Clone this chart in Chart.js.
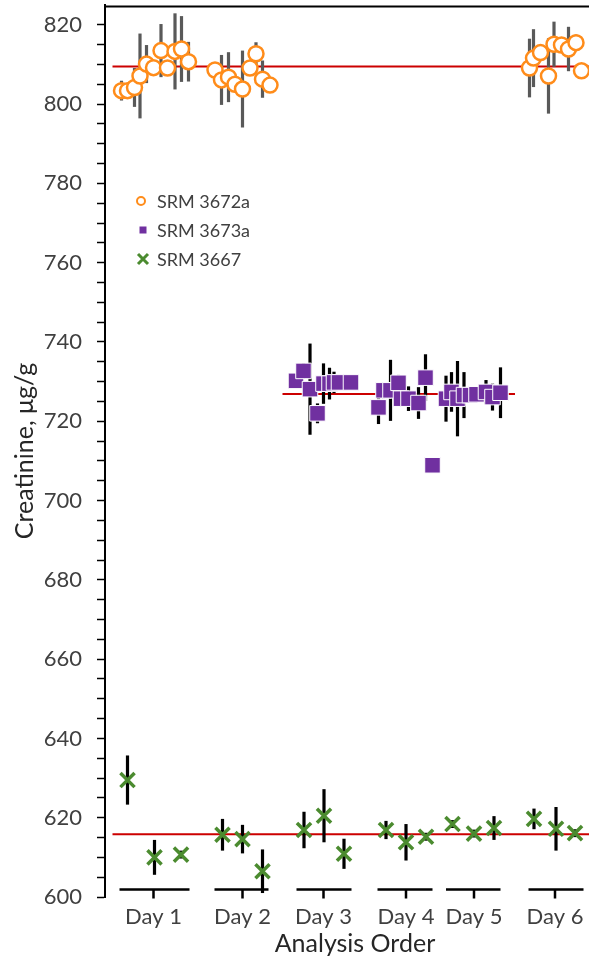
<!DOCTYPE html>
<html>
<head>
<meta charset="utf-8">
<title>Creatinine, SRM 3672a / 3673a / 3667</title>
<script src="https://cdn.jsdelivr.net/npm/chart.js@4.4.1/dist/chart.umd.min.js"></script>
<style>
  html, body { margin: 0; padding: 0; background: #fff; overflow: hidden; }
  #wrap { position: relative; width: 610px; height: 962px; }
</style>
</head>
<body>
<div id="wrap"><canvas id="chart"></canvas></div>
<script>
// x is the position in the analysis sequence, y is creatinine in ug/g
const DAY_LABELS = ['Day 1', 'Day 2', 'Day 3', 'Day 4', 'Day 5', 'Day 6'];
const DAY_CENTERS = [9.7, 27.5, 43.7, 60.2, 73.8, 90.0];
const DAY_STARTS = [2.9, 21.9, 38.3, 54.5, 68.2, 84.7];
const DAY_ENDS = [16.9, 32.7, 49.3, 65.5, 79.1, 95.7];

const SRM3672A_X = [
    3.3, 4.5, 5.9, 7.0, 8.3, 9.7, 11.2, 12.5, 14.0, 15.3, 16.7,
    22.0, 23.3, 24.7, 26.0, 27.5, 29.0, 30.2, 31.5, 33.0,
    84.9, 85.7, 87.1, 88.7, 89.8, 91.3, 92.7, 94.2, 95.3
];
const SRM3672A_Y = [
    803.4, 803.4, 804.2, 807.1, 810.1, 809.2, 813.5, 809.1, 813.3, 813.9, 810.7,
    808.6, 806.1, 806.8, 805.0, 803.8, 809.1, 812.7, 806.3, 804.8,
    809.1, 811.6, 813.0, 807.1, 815.1, 814.9, 813.9, 815.5, 808.4
];
const SRM3672A_ERR = [
    2.5, 1.5, 4.9, 10.7, 4.8, 1.5, 6.7, 2.0, 9.6, 8.3, 5.0,
    1.5, 6.3, 6.3, 2.0, 9.7, 2.0, 2.9, 4.7, 1.5,
    7.4, 7.3, 2.0, 9.5, 5.7, 2.0, 5.6, 2.0, 1.5
];

const SRM3673A_X = [
    38.2, 39.7, 41.0, 42.5, 43.7, 44.9, 45.8, 46.8, 49.2,
    54.7, 55.7, 57.1, 58.7, 59.2, 60.7, 62.7, 64.1, 65.5,
    68.2, 69.3, 70.5, 71.8, 73.0, 74.3, 76.2, 77.5, 79.1
];
const SRM3673A_Y = [
    730.2, 732.7, 728.1, 722.0, 729.5, 729.5, 729.8, 729.8, 729.8,
    723.5, 727.8, 727.8, 729.7, 725.7, 725.7, 724.6, 731.0, 708.9,
    725.7, 727.4, 725.7, 726.6, 726.6, 726.8, 727.4, 726.1, 727.2
];
const SRM3673A_ERR = [
    1.5, 2.0, 11.5, 2.5, 5.1, 4.0, 2.7, 1.5, 1.5,
    4.2, 2.0, 7.7, 2.0, 2.0, 3.1, 4.0, 5.9, 1.0,
    5.8, 5.0, 9.5, 5.8, 1.5, 1.5, 3.0, 3.4, 6.4
];

const SRM3667_X = [
    4.5, 9.9, 15.2, 23.5, 27.5, 31.5, 39.8, 43.8, 47.8,
    56.2, 60.2, 64.2, 69.5, 73.8, 77.8, 85.8, 90.2, 94.0
];
const SRM3667_Y = [
    629.5, 610.0, 610.7, 615.7, 614.6, 606.5, 616.9, 620.5, 610.9,
    616.9, 613.8, 615.2, 618.4, 616.0, 617.4, 619.7, 617.2, 616.1
];
const SRM3667_ERR = [
    6.2, 4.4, 1.0, 4.0, 3.6, 5.5, 4.6, 6.7, 3.8,
    2.3, 4.6, 1.0, 1.0, 1.0, 3.0, 2.6, 5.5, 1.0
];

// certified / assigned values, drawn as red reference lines
const MEAN_3672A = 809.5;
const MEAN_3673A = 726.9;
const MEAN_3667 = 615.8;
const MEAN_3672A_SPAN = [1.5, 100];
const MEAN_3673A_SPAN = [35.5, 82];
const MEAN_3667_SPAN = [1.5, 100];

const ORANGE = '#ff8c1a';
const PURPLE = '#7030a0';
const GREEN = '#4b8b2f';
const RED = '#cc0000';
const TEXT = '#404040';
const FONT = 'Lato, "Open Sans", sans-serif';

function points(xs, ys) {
    return xs.map((x, i) => ({ x, y: ys[i] }));
}

function meanLine(value, span) {
    return {
        type: 'line',
        data: span.map(x => ({ x, y: value })),
        borderColor: RED,
        borderWidth: 2,
        pointRadius: 0,
        order: 5,
    };
}

// vertical error bars, painted right before the markers of their dataset
const errorBars = {
    id: 'errorBars',
    beforeDatasetDraw(chart, args) {
        const ds = chart.data.datasets[args.index];
        if (!ds.errors) return;
        const { ctx, scales: { x, y } } = chart;
        ctx.save();
        ctx.strokeStyle = ds.errorColor;
        ctx.lineWidth = 3.2;
        ds.data.forEach((p, i) => {
            const e = ds.errors[i];
            const px = x.getPixelForValue(p.x);
            ctx.beginPath();
            ctx.moveTo(px, y.getPixelForValue(p.y - e));
            ctx.lineTo(px, y.getPixelForValue(p.y + e));
            ctx.stroke();
        });
        ctx.restore();
    }
};

// bracket under each day
const dayBrackets = {
    id: 'dayBrackets',
    beforeDatasetsDraw(chart) {
        const { ctx, scales: { x, y } } = chart;
        const py = Math.round(y.getPixelForValue(601.9)) + 0.5;
        ctx.save();
        ctx.strokeStyle = '#000';
        ctx.lineWidth = 2.5;
        DAY_STARTS.forEach((start, i) => {
            const cx = x.getPixelForValue(DAY_CENTERS[i]);
            ctx.beginPath();
            ctx.moveTo(x.getPixelForValue(start), py);
            ctx.lineTo(x.getPixelForValue(DAY_ENDS[i]), py);
            ctx.moveTo(cx, py);
            ctx.lineTo(cx, py + 9);
            ctx.stroke();
        });
        ctx.restore();
    }
};

// top edge of the plot frame
const topFrame = {
    id: 'topFrame',
    afterDraw(chart) {
        const { ctx, chartArea } = chart;
        ctx.save();
        ctx.strokeStyle = '#000';
        ctx.lineWidth = 2;
        ctx.beginPath();
        ctx.moveTo(chartArea.left - 1, chartArea.top + 1.5);
        ctx.lineTo(chartArea.right, chartArea.top + 1.5);
        ctx.stroke();
        ctx.restore();
    }
};

// legend block inside the plot area
const insetLegend = {
    id: 'insetLegend',
    afterDraw(chart) {
        const { ctx } = chart;
        const mx = 143, tx = 157;
        const rows = [201, 230, 259];
        ctx.save();
        ctx.font = '18px ' + FONT;
        ctx.fillStyle = TEXT;
        ctx.textBaseline = 'middle';
        chart.data.datasets.filter(d => d.errors).forEach((ds, i) => {
            const my = rows[i];
            ctx.save();
            if (ds.pointStyle === 'circle') {
                ctx.strokeStyle = ORANGE;
                ctx.fillStyle = '#fff';
                ctx.lineWidth = 2;
                ctx.beginPath();
                ctx.arc(mx - 2, my, 4, 0, Math.PI * 2);
                ctx.fill();
                ctx.stroke();
            } else if (ds.pointStyle === 'rect') {
                ctx.fillStyle = PURPLE;
                ctx.fillRect(mx - 3.5, my - 3.5, 7, 7);
            } else {
                ctx.strokeStyle = GREEN;
                ctx.lineWidth = 3;
                ctx.beginPath();
                ctx.moveTo(mx - 5, my - 5);
                ctx.lineTo(mx + 5, my + 5);
                ctx.moveTo(mx + 5, my - 5);
                ctx.lineTo(mx - 5, my + 5);
                ctx.stroke();
            }
            ctx.restore();
            ctx.fillText(ds.label, tx, my + 1);
        });
        ctx.restore();
    }
};

new Chart(document.getElementById('chart'), {
    type: 'scatter',
    data: {
        datasets: [
            {
                label: 'SRM 3672a',
                data: points(SRM3672A_X, SRM3672A_Y),
                errors: SRM3672A_ERR,
                errorColor: '#595959',
                pointStyle: 'circle',
                pointRadius: 7.5,
                borderWidth: 2.5,
                borderColor: ORANGE,
                backgroundColor: '#fff',
                order: 1,
            },
            {
                label: 'SRM 3673a',
                data: points(SRM3673A_X, SRM3673A_Y),
                errors: SRM3673A_ERR,
                errorColor: '#000',
                pointStyle: 'rect',
                pointRadius: 11,
                borderWidth: 1,
                borderColor: '#fff',
                backgroundColor: PURPLE,
                order: 1,
            },
            {
                label: 'SRM 3667',
                data: points(SRM3667_X, SRM3667_Y),
                errors: SRM3667_ERR,
                errorColor: '#000',
                pointStyle: 'crossRot',
                pointRadius: 10,
                borderWidth: 3.5,
                borderColor: GREEN,
                backgroundColor: GREEN,
                order: 1,
            },
            meanLine(MEAN_3672A, MEAN_3672A_SPAN),
            meanLine(MEAN_3673A, MEAN_3673A_SPAN),
            meanLine(MEAN_3667, MEAN_3667_SPAN),
        ]
    },
    options: {
        responsive: true,
        maintainAspectRatio: false,
        animation: false,
        events: [],
        layout: {
            autoPadding: false,
            padding: { top: 5, right: 5, left: 0, bottom: 0 }
        },
        plugins: {
            legend: { display: false },
            tooltip: { enabled: false },
        },
        scales: {
            x: {
                type: 'linear',
                min: 0,
                max: 100,
                afterFit: scale => {
                    scale.height = 65;
                    scale.paddingLeft = 0;
                    scale.paddingRight = 0;
                },
                afterBuildTicks: scale => {
                    scale.ticks = DAY_CENTERS.map(value => ({ value }));
                },
                grid: { display: false, drawTicks: false },
                border: { display: false },
                ticks: {
                    autoSkip: false,
                    maxRotation: 0,
                    padding: 7,
                    color: TEXT,
                    font: { family: FONT, size: 22 },
                    callback: (value, index) => DAY_LABELS[index],
                },
                title: {
                    display: true,
                    text: 'Analysis Order',
                    color: '#262626',
                    font: { family: FONT, size: 25 },
                    padding: { top: 0, bottom: 3 },
                },
            },
            y: {
                min: 600,
                max: 825,
                afterFit: scale => {
                    scale.width = 105;
                    scale.paddingTop = 0;
                    scale.paddingBottom = 0;
                },
                grid: {
                    drawOnChartArea: false,
                    tickLength: 8,
                    tickWidth: 1.5,
                    tickColor: ctx => ctx.tick && ctx.tick.value === 825 ? 'rgba(0,0,0,0)' : '#000',
                },
                border: { display: true, color: '#000', width: 2 },
                ticks: {
                    stepSize: 5,
                    autoSkip: false,
                    padding: 15,
                    color: TEXT,
                    font: { family: FONT, size: 22 },
                    callback: value => value % 20 === 0 ? value : '',
                },
                title: {
                    display: true,
                    text: 'Creatinine, μg/g',
                    color: '#262626',
                    font: { family: FONT, size: 25 },
                    padding: { top: 10, bottom: 0 },
                },
            },
        },
    },
    plugins: [errorBars, dayBrackets, topFrame, insetLegend],
});
</script>
</body>
</html>
